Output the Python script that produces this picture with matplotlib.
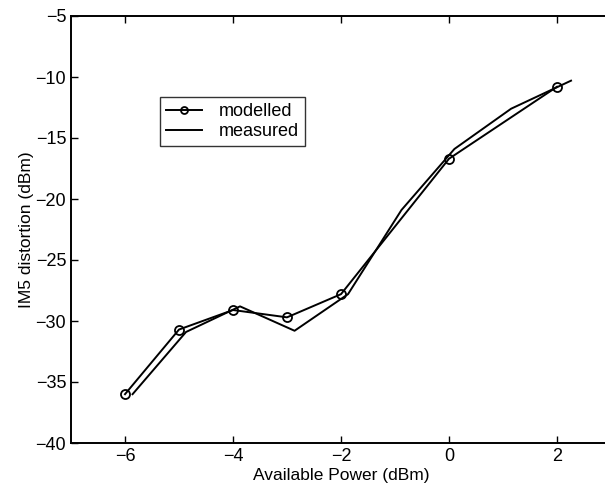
import numpy as np
import matplotlib.pyplot as plt

# modelled IM5 distortion (dBm) vs available power (dBm)
model_x = [-6, -5, -4, -3, -2, 0, 2]
model_y = [-36.0, -30.7, -29.1, -29.7, -27.8, -16.7, -10.8]

# measured curve
meas_x = [-5.86, -4.87, -3.87, -2.86, -1.87, -0.88, 0.1, 1.15, 2.26]
meas_y = [-36.0, -30.9, -28.8, -30.8, -27.8, -20.9, -15.9, -12.6, -10.3]

xticks = [-6, -4, -2, 0, 2]
yticks = [-40, -35, -30, -25, -20, -15, -10, -5]

plt.rcParams['font.family'] = ['Liberation Sans', 'DejaVu Sans']

fig = plt.figure(figsize=(6.05, 4.87), dpi=100)
ax = fig.add_axes([71 / 605, 44 / 487, 540 / 605, 427 / 487])

ax.plot(model_x, model_y, color='black', linewidth=1.4, marker='o',
        markersize=6.5, markerfacecolor='none', markeredgewidth=1.3, label='modelled')
ax.plot(meas_x, meas_y, color='black', linewidth=1.4, label='measured')

ax.set_xlim(-7, 3)
ax.set_ylim(-40, -5)
ax.set_xticks(xticks)
ax.set_yticks(yticks)
ax.set_xticklabels([str(t).replace('-', '\u2212') for t in xticks])
ax.set_yticklabels([str(t).replace('-', '\u2212') for t in yticks])
ax.tick_params(direction='in', top=True, right=False, length=5, labelsize=13, width=1)
for s in ax.spines.values():
    s.set_linewidth(1.4)

ax.set_xlabel('Available Power (dBm)', fontsize=12.5, labelpad=2)
ax.set_ylabel('IM5 distortion (dBm)', fontsize=12.5, labelpad=1)

leg = ax.legend(loc='upper left', bbox_to_anchor=((160 - 71) / 540, (443 - 97) / 427),
                fontsize=13, frameon=True, fancybox=False, edgecolor='black',
                borderpad=0.35, handlelength=2.0, handletextpad=0.9,
                labelspacing=0.15, borderaxespad=0)
leg.get_frame().set_linewidth(1.0)
leg.legend_handles[0].set_markersize(5)

fig.savefig('out.png', dpi=100)
